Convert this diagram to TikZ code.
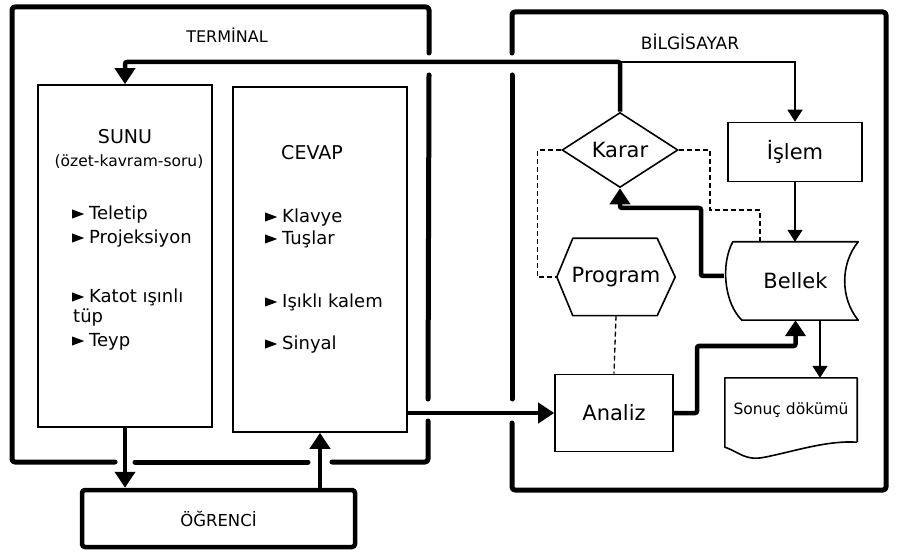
\documentclass[tikz,border=0pt]{standalone}
\usepackage{fontspec}
\setmainfont{DejaVu Sans}
\usetikzlibrary{arrows.meta,shapes.geometric,calc}
\newcommand\mybul{\tikz[baseline=-1pt,x=1pt,y=1pt]\fill (0,0) -- (12,4.5) -- (0,9) -- cycle;\hspace{5pt}}
\begin{document}
\begin{tikzpicture}[x=1pt,y=-1pt,
  frame/.style={line width=5pt,line cap=round,line join=round,rounded corners=3pt},
  box/.style={draw,line width=1.6pt,rectangle,inner sep=0pt},
  ghost/.style={rectangle,inner sep=0pt},
  shapeline/.style={line width=1.6pt,line join=round},
  thickarr/.style={line width=4.5pt,rounded corners=2pt,-{Triangle[width=20pt,length=16pt]}},
  thinarr/.style={line width=1.5pt,-{Triangle[width=15pt,length=12pt]}},
  dashline/.style={line width=1.3pt,dash pattern=on 5pt off 3pt},
  lbl/.style={font=\fontsize{21}{24}\selectfont},
  head/.style={font=\fontsize{16}{19}\selectfont},
  item/.style={anchor=west,font=\fontsize{18}{21}\selectfont,align=left,inner sep=0pt,text height=13pt,text depth=4pt},
]
\useasboundingbox (0,0) rectangle (897,553);

% frames
\draw[frame] (429,53) -- (429,7) -- (12,7) -- (12,462) -- (115,462);
\draw[frame] (135,462) -- (308,462);
\draw[frame] (332,462) -- (428,462) -- (428,421);
\draw[frame] (428,399) -- (429,75);
\draw[frame] (512,53) -- (512,12) -- (886,12) -- (886,490) -- (512,490) -- (512,423);
\draw[frame] (512,399) -- (512,75);

\node[head] (termlbl) at (227,35) {TERMİNAL};
\node[font=\fontsize{17}{19}\selectfont] (bilglbl) at (690,42) {BİLGİSAYAR};

% terminal boxes
\node[box,minimum width=174pt,minimum height=342pt] (sunu) at (125,256) {};
\node[box,minimum width=174pt,minimum height=345pt] (cevap) at (320,259.5) {};
\node[box,line width=4.5pt,rounded corners=3pt,minimum width=273pt,minimum height=57pt,font=\fontsize{16.5}{19}\selectfont] (ogr) at (218.5,518.5) {ÖĞRENCİ};

\node[font=\fontsize{19}{21}\selectfont] (sunut) at (125,137) {SUNU};
\node[font=\fontsize{15.5}{18}\selectfont] (sunus) at (129,162) {(özet-kavram-soru)};
\node[font=\fontsize{19}{21}\selectfont] (cevapt) at (312,153) {CEVAP};

\node[item] (s1) at (72,215) {\mybul Teletip};
\node[item] (s2) at (72,239) {\mybul Projeksiyon};
\node[item] (s3) at (72,298) {\mybul Katot ışınlı};
\node[item] (s3b) at (73,318) {tüp};
\node[item] (s4) at (72,342) {\mybul Teyp};

\node[item] (c1) at (265,218) {\mybul Klavye};
\node[item] (c2) at (265,240) {\mybul Tuşlar};
\node[item] (c3) at (265,303) {\mybul Işıklı kalem};
\node[item] (c4) at (265,345) {\mybul Sinyal};

% computer
\node[draw,diamond,line width=1.6pt,minimum width=116pt,minimum height=75pt,aspect=1.55,inner sep=0pt,lbl] (karar) at (620,150) {Karar};
\node[box,minimum width=134pt,minimum height=59pt,lbl] (islem) at (795,152) {İşlem};
\node[ghost,minimum width=118pt,minimum height=77pt,lbl] (program) at (616,277) {Program};
\draw[shapeline] (program.west) -- ($(program.north west)+(16,0)$) -- ($(program.north east)+(-18,0)$) -- (program.east) -- ($(program.south east)+(-18,0)$) -- ($(program.south west)+(16,0)$) -- cycle;
\node[ghost,minimum width=125pt,minimum height=78pt,lbl] (bellek) at (795.5,281) {Bellek};
\draw[shapeline] (bellek.north west) -- (bellek.north east) .. controls +(-18,22) and +(-18,-22) .. (bellek.south east) -- ($(bellek.south west)+(9,0)$) .. controls +(-18,-18) and +(-12,22) .. (bellek.north west) -- cycle;
\node[box,minimum width=118pt,minimum height=77pt,lbl] (analiz) at (614,413) {Analiz};
\node[ghost,minimum width=132pt,minimum height=64pt,font=\fontsize{15.5}{18}\selectfont] (sonuc) at (791,410) {Sonuç dökümü};
\draw[shapeline] (sonuc.south east) -- (sonuc.north east) -- (sonuc.north west) -- ($(sonuc.south west)+(0,5)$) .. controls +(15,5) and +(-20,4) .. ($(sonuc.south west)+(40,15)$) .. controls +(30,-6) and +(-30,-2) .. (sonuc.south east);

% connectors
\coordinate (top) at (0,62);
\coordinate (b1) at (701,208);
\coordinate (a1) at (697,346);
\coordinate (d2) at (710,210);
\coordinate (d3) at (760,0);
\coordinate (s) at (820,0);

\draw[thickarr] (karar.north) -- (karar.north |- top) -| (sunu.north);
\draw[thinarr] (karar.north |- top) -| (islem.north);
\draw[thinarr] (islem.south) -- (islem.south |- bellek.north);
\draw[thickarr] ($(bellek.west)+(-9,-5)$) -| (b1) -| (karar.south);
\draw[dashline] (karar.west) -| ($(program.west)+(-19,0)$) -- (program.west);
\draw[dashline] (karar.east) -| (d2) -| (d3 |- bellek.north);
\draw[dashline] (program.south) -- (analiz.north);
\draw[thickarr] (cevap.east |- analiz.west) -- (analiz.west);
\draw[thickarr] (analiz.east) -| (a1) -| (bellek.south);
\draw[thinarr] (s |- bellek.south) -- (s |- sonuc.north);
\draw[thickarr] (sunu.south) -- (sunu.south |- ogr.north);
\draw[thickarr] (cevap.south |- ogr.north) -- (cevap.south);
\end{tikzpicture}
\end{document}
